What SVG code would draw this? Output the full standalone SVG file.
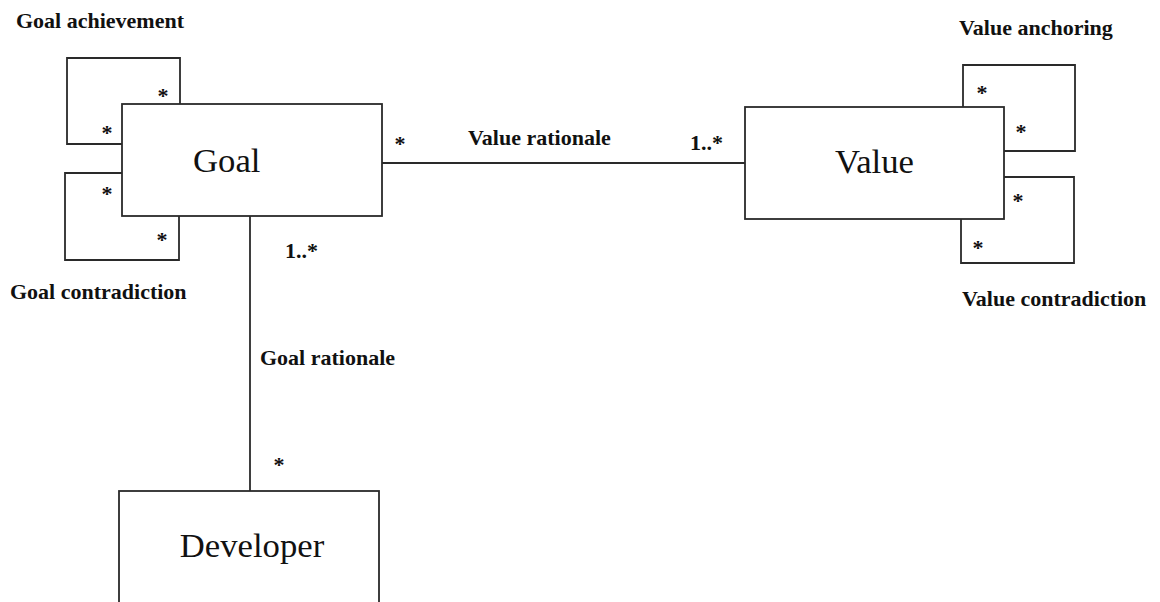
<svg xmlns="http://www.w3.org/2000/svg" width="1160" height="602" viewBox="0 0 1160 602">
  <style>
    .box { fill: #ffffff; stroke: #2a2a2a; stroke-width: 1.8; }
    .line { fill: none; stroke: #2a2a2a; stroke-width: 1.8; }
    .name { font-family: "Liberation Serif", "Times New Roman", serif; font-size: 34.7px; fill: #111; }
    .lbl { font-family: "Liberation Serif", "Times New Roman", serif; font-size: 22px; font-weight: bold; fill: #111; }
    .mid { text-anchor: middle; }
  </style>
  <rect width="1160" height="602" fill="#ffffff"/>

  <!-- associations -->
  <g id="connectors">
    <!-- Goal self-associations -->
    <path class="line" d="M122,144 H67 V58 H180 V104"/>
    <path class="line" d="M122,173 H65 V260 H179 V216"/>
    <!-- Value self-associations -->
    <path class="line" d="M963,107 V65 H1075 V151 H1004"/>
    <path class="line" d="M1004,177 H1074 V263 H961 V219"/>
    <!-- Value rationale -->
    <line class="line" x1="382" y1="163" x2="745" y2="163"/>
    <!-- Goal rationale -->
    <line class="line" x1="250" y1="216" x2="250" y2="491"/>

    <text class="lbl" x="16" y="28">Goal achievement</text>
    <text class="lbl mid" x="163" y="103">*</text>
    <text class="lbl mid" x="107" y="140">*</text>

    <text class="lbl" x="10" y="299">Goal contradiction</text>
    <text class="lbl mid" x="107" y="201">*</text>
    <text class="lbl mid" x="162" y="247">*</text>

    <text class="lbl" x="959" y="35">Value anchoring</text>
    <text class="lbl mid" x="982" y="100">*</text>
    <text class="lbl mid" x="1021" y="139">*</text>

    <text class="lbl" x="962" y="306">Value contradiction</text>
    <text class="lbl mid" x="1018" y="208">*</text>
    <text class="lbl mid" x="978" y="255">*</text>

    <text class="lbl mid" x="400" y="151">*</text>
    <text class="lbl" x="468" y="145">Value rationale</text>
    <text class="lbl" x="690" y="150">1..*</text>

    <text class="lbl" x="285" y="258">1..*</text>
    <text class="lbl" x="260" y="365">Goal rationale</text>
    <text class="lbl mid" x="279" y="472">*</text>
  </g>

  <g id="goal">
    <rect class="box" x="122" y="104" width="260" height="112"/>
    <text class="name" x="193" y="172">Goal</text>
  </g>

  <g id="value">
    <rect class="box" x="745" y="107" width="259" height="112"/>
    <text class="name mid" x="874.5" y="173">Value</text>
  </g>

  <g id="developer">
    <rect class="box" x="119" y="491" width="260" height="130"/>
    <text class="name mid" x="252" y="557">Developer</text>
  </g>
</svg>
